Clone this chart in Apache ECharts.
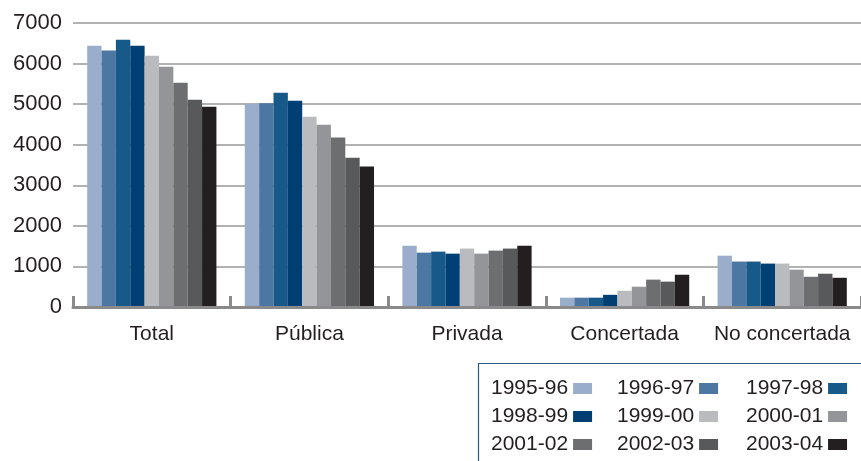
<!DOCTYPE html>
<html>
<head>
<meta charset="utf-8">
<script src="https://cdn.jsdelivr.net/npm/echarts@6/dist/echarts.min.js"></script>
<style>
html,body{margin:0;padding:0;background:#fff;}
#chart{width:861px;height:461px;}
</style>
</head>
<body>
<div id="chart"></div>
<script>
const categories = ['Total', 'Pública', 'Privada', 'Concertada', 'No concertada'];
const seriesNames = ['1995-96', '1996-97', '1997-98', '1998-99', '1999-00', '2000-01', '2001-02', '2002-03', '2003-04'];
const yTicks = [0, 1000, 2000, 3000, 4000, 5000, 6000, 7000];

const v1995_96 = [6440, 5010, 1510, 230, 1265];
const v1996_97 = [6320, 5020, 1340, 230, 1120];
const v1997_98 = [6590, 5280, 1365, 230, 1120];
const v1998_99 = [6440, 5085, 1315, 300, 1070];
const v1999_00 = [6190, 4690, 1440, 400, 1070];
const v2000_01 = [5920, 4495, 1315, 500, 920];
const v2001_02 = [5530, 4175, 1390, 675, 745];
const v2002_03 = [5110, 3680, 1440, 625, 820];
const v2003_04 = [4935, 3460, 1510, 795, 720];

const seriesValues = [v1995_96, v1996_97, v1997_98, v1998_99, v1999_00, v2000_01, v2001_02, v2002_03, v2003_04];
const colors = ['#9aaecb', '#4d77a3', '#175a8a', '#003f74', '#b9bbbe', '#939598', '#6d6e70', '#58595b', '#231f20'];

const FONT = 'Liberation Sans, Arial, sans-serif';
const TEXT = '#231f20';

const chart = echarts.init(document.getElementById('chart'), null, {renderer: 'canvas'});

function legendCol(names, left) {
  return {
    orient: 'vertical',
    left: left,
    top: 378,
    padding: 0,
    align: 'right',
    itemWidth: 19,
    itemHeight: 11,
    itemGap: 7,
    icon: 'rect',
    selectedMode: false,
    data: names,
    textStyle: {fontFamily: FONT, fontSize: 21, color: TEXT}
  };
}

const option = {
  animation: false,
  color: colors,
  textStyle: {fontFamily: FONT},
  grid: {left: 73, top: 23, bottom: 154, width: 792},
  legend: [
    legendCol([seriesNames[0], seriesNames[3], seriesNames[6]], 491),
    legendCol([seriesNames[1], seriesNames[4], seriesNames[7]], 617),
    legendCol([seriesNames[2], seriesNames[5], seriesNames[8]], 746)
  ],
  graphic: [{
    type: 'rect',
    z: -1,
    shape: {x: 478.5, y: 363.5, width: 500, height: 200},
    style: {fill: '#fff', stroke: '#2c5a86', lineWidth: 1.2}
  }],
  xAxis: {
    type: 'category',
    data: categories,
    axisLine: {show: true, lineStyle: {color: '#8a8a8a', width: 3}},
    axisTick: {show: true, inside: true, length: 11, lineStyle: {color: '#8a8a8a', width: 3}},
    axisLabel: {interval: 0, hideOverlap: false, margin: 17, fontSize: 21, color: TEXT, fontFamily: FONT},
    z: 10
  },
  yAxis: {
    type: 'value',
    min: 0,
    max: 7000,
    interval: 1000,
    axisLine: {show: false},
    axisTick: {show: false},
    axisLabel: {
      margin: 11, fontSize: 22, color: TEXT, fontFamily: FONT,
      padding: [0, 0, 9, 0],
      formatter: function (v) { return yTicks.indexOf(v) >= 0 ? String(v) : ''; }
    },
    splitLine: {show: true, lineStyle: {color: '#989898', width: 1.5}}
  },
  series: seriesNames.map(function (name, i) {
    return {
      name: name,
      type: 'bar',
      data: seriesValues[i],
      barGap: '0%',
      barCategoryGap: '18%',
      itemStyle: {color: colors[i]}
    };
  })
};

chart.setOption(option);
</script>
</body>
</html>
